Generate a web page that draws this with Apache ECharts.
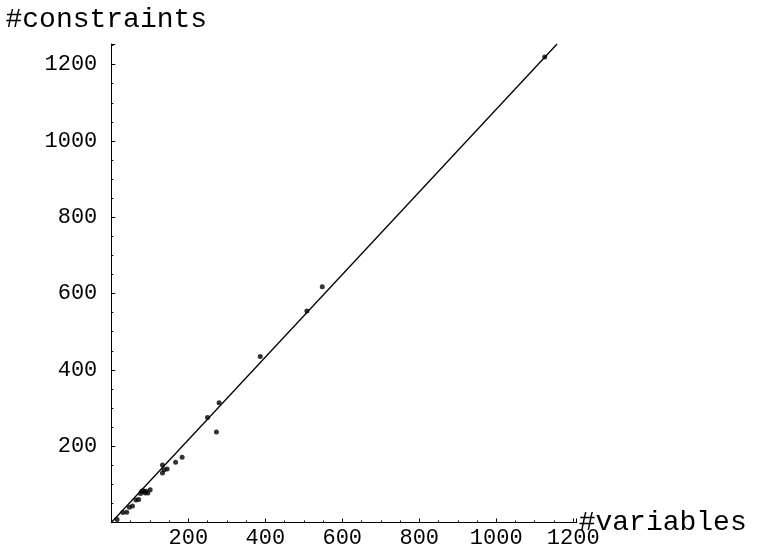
<!DOCTYPE html>
<html>
<head>
<meta charset="utf-8">
<script src="https://cdn.jsdelivr.net/npm/echarts@6/dist/echarts.min.js"></script>
<style>
  html, body { margin: 0; padding: 0; background: #fff; }
  #chart { width: 760px; height: 556px; }
</style>
</head>
<body>
<div id="chart"></div>
<script>
// points: [#variables, #constraints]
var points = [
  [15, 8], [30, 26], [40, 27], [47, 40], [55, 43], [64, 59], [71, 60],
  [76, 76], [79, 82], [83, 83], [88, 77], [90, 82], [95, 77], [101, 86],
  [133, 151], [133, 130], [137, 138], [145, 140], [167, 158], [184, 171],
  [250, 275], [273, 237], [280, 314], [387, 435], [508, 554], [548, 618],
  [1126, 1220]
];
// fitted line, ends where it leaves the plot at the top
var fitLine = [[0, 0], [1158, 1254]];
var xTicks = [200, 400, 600, 800, 1000, 1200];
var yTicks = [200, 400, 600, 800, 1000, 1200];

var font = '"Liberation Mono", "DejaVu Sans Mono", monospace';

function tickLabel(list) {
  return function (v) { return list.indexOf(v) >= 0 ? String(v) : ''; };
}

echarts.init(document.getElementById('chart')).setOption({
  animation: false,
  grid: { left: 111.3, top: 44, width: 465.4, height: 478.5, outerBoundsMode: 'none', containLabel: false },
  xAxis: {
    type: 'value', min: 0, max: 1209, interval: 200,
    name: '#variables', nameLocation: 'end', nameGap: 2, nameMoveOverlap: false,
    nameTextStyle: { color: '#000', fontFamily: font, fontSize: 28, padding: [8, 0, 0, 0] },
    axisLine: { show: true, lineStyle: { color: '#000', width: 1 } },
    axisTick: { show: true, inside: true, length: 4, lineStyle: { color: '#000' } },
    minorTick: { show: true, splitNumber: 4, length: 2, lineStyle: { color: '#000' } },
    axisLabel: { color: '#000', fontFamily: font, fontSize: 22, margin: 5, formatter: tickLabel(xTicks) },
    splitLine: { show: false }
  },
  yAxis: {
    type: 'value', min: 0, max: 1254, interval: 200,
    name: '#constraints', nameLocation: 'end', nameGap: 10, nameMoveOverlap: false,
    nameTextStyle: { color: '#000', fontFamily: font, fontSize: 28, padding: [0, 10, 0, 0] },
    axisLine: { show: true, lineStyle: { color: '#000', width: 1 } },
    axisTick: { show: true, inside: true, length: 4, lineStyle: { color: '#000' } },
    minorTick: { show: true, splitNumber: 4, length: 2, lineStyle: { color: '#000' } },
    axisLabel: { color: '#000', fontFamily: font, fontSize: 22, margin: 14, formatter: tickLabel(yTicks) },
    splitLine: { show: false }
  },
  series: [
    {
      type: 'line', data: fitLine, showSymbol: false, symbol: 'none',
      lineStyle: { color: '#000', width: 1.3 }, z: 2
    },
    {
      type: 'scatter', data: points, symbol: 'circle', symbolSize: 5,
      itemStyle: { color: '#000' }, z: 3
    }
  ]
});
</script>
</body>
</html>
